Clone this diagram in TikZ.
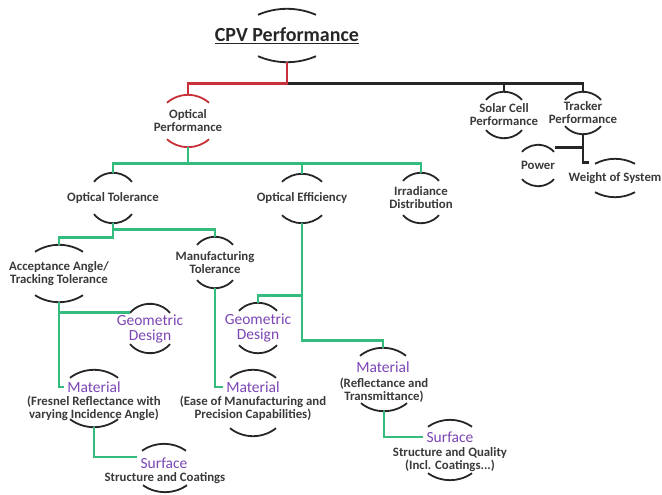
\documentclass[tikz,border=0pt]{standalone}
\usepackage{fontspec}
\setmainfont{Carlito}
\usepackage{xcolor}
\usepackage{tikz}

\definecolor{txtgray}{HTML}{3A3A3A}
\definecolor{headviolet}{HTML}{7B45B5}
\definecolor{linegreen}{HTML}{33BC7E}
\definecolor{linered}{HTML}{C8303A}

\begin{document}
\begin{tikzpicture}[
    x=1pt, y=1pt,
    toptitle/.style={font=\bfseries\fontsize{20}{22}\selectfont, text=black!85, inner sep=1pt},
    term/.style={font=\bfseries\fontsize{12.8}{13}\selectfont, text=txtgray, align=center, inner sep=1pt},
    head/.style={font=\fontsize{15.5}{15}\selectfont, text=headviolet, align=center, inner xsep=3pt, inner ysep=0pt},
    note/.style={term},
    link/.style={line width=2.8pt},
    blackline/.style={link, draw=black!85},
    redline/.style={link, draw=linered},
    greenline/.style={link, draw=linegreen},
    capline/.style={line width=1.8pt}
]
    \useasboundingbox (0,0) rectangle (662,-495);

    % Nodes
    \node[toptitle, minimum height=53] (cpv) at (287,-35.5) {\underline{CPV Performance}};

    \node[term, minimum height=52] (op) at (188,-121) {Optical\\Performance};
    \node[term, minimum height=46] (sc) at (504,-115) {Solar Cell\\Performance};
    \node[term, minimum height=42] (tp) at (583,-113) {Tracker\\Performance};
    \node[term, minimum height=41] (pw) at (538,-165.5) {Power};
    \node[term, minimum height=38] (ws) at (615,-178) {Weight of System};

    \node[term, minimum height=50] (ot) at (113,-198) {Optical Tolerance};
    \node[term, minimum height=49] (oe) at (302,-198.5) {Optical Efficiency};
    \node[term, minimum height=50] (id) at (421,-198) {Irradiance\\Distribution};

    \node[term, minimum height=57] (acc) at (59,-273.5) {Acceptance Angle/\\Tracking Tolerance};
    \node[term, minimum height=51] (mt) at (215,-262.5) {Manufacturing\\Tolerance};

    \node[head, minimum height=49] (gd1) at (150,-328.5) {Geometric\\Design};
    \node[head, minimum height=50] (gd2) at (258,-328) {Geometric\\Design};

    \node[head, minimum height=34] (mat1) at (94,-387) {Material};
    \node[note, minimum height=37] (mat1d) at (94,-408.5) {(Fresnel Reflectance with\\varying Incidence Angle)};
    \node[head, minimum height=34] (mat2) at (253,-387) {Material};
    \node[note, minimum height=55] (mat2d) at (253,-408.5) {(Ease of Manufacturing and\\Precision Capabilities)};
    \node[head, minimum height=38] (mat3) at (383,-367) {Material};
    \node[note, minimum height=42] (mat3d) at (384,-390) {(Reflectance and\\Transmittance)};

    \node[head, minimum height=38] (sf1) at (164,-463) {Surface};
    \node[note, minimum height=28] (sf1d) at (165,-478) {Structure and Coatings};
    \node[head, minimum height=34] (sf2) at (450,-437) {Surface};
    \node[note, minimum height=40] (sf2d) at (450,-460) {Structure and Quality\\(Incl. Coatings...)};

    % Caps above and below
    \foreach \t/\b/\w/\d/\c in {cpv/cpv/29/6/black!85, op/op/21/8/linered,
        sc/sc/18/8/black!85, tp/tp/18/8/black!85, pw/pw/16/7/black!85, ws/ws/20/5/black!85,
        ot/ot/19/9/black!85, oe/oe/20/8/black!85, id/id/18/8/black!85,
        acc/acc/24/7/black!85, mt/mt/18/8/black!85, gd1/gd1/20/9/black!85, gd2/gd2/19/8/black!85,
        mat1/mat1d/24/8/black!85, mat2/mat2d/23/8/black!85, mat3/mat3d/23/8/black!85,
        sf1/sf1d/22/7/black!85, sf2/sf2d/22/7/black!85}{
        \pgfmathsetmacro\rad{(\w*\w+\d*\d)/(2*\d)}
        \pgfmathsetmacro\ang{asin(\w/\rad)}
        \draw[capline, draw=\c] ([xshift=-\w, yshift=-\d]\t.north) arc[start angle=90+\ang, end angle=90-\ang, radius=\rad];
        \draw[capline, draw=\c] ([xshift=-\w, yshift=\d]\b.south) arc[start angle=270-\ang, end angle=270+\ang, radius=\rad];
    }

    % Connectors
    \draw[blackline] (cpv.south) -- ++(0,-21) -| (tp.north);
    \draw[blackline] (cpv.south) -- ++(0,-21) -| (sc.north);
    \draw[redline] (cpv.south) -- ++(0,-21) -| (op.north);
    \draw[blackline] (tp.south) |- ([xshift=17, yshift=-3]pw.north);
    \draw[blackline] (tp.south) |- ([xshift=-26, yshift=-4]ws.north);

    \draw[greenline] (op.south) -- ++(0,-16) -| (ot.north);
    \draw[greenline] (op.south) -- ++(0,-16) -| (oe.north);
    \draw[greenline] (op.south) -- ++(0,-16) -| (id.north);

    \draw[greenline] (ot.south) -- ++(0,-6) -| (mt.north);
    \draw[greenline] (ot.south) -- ++(0,-14) -| (acc.north);
    \draw[greenline] (acc.south) |- ([xshift=-20, yshift=-9]gd1.north);
    \draw[greenline] (acc.south) |- (mat1.west);
    \draw[greenline] (mat1d.south) |- ([yshift=6]sf1.west);
    \draw[greenline] (mt.south) |- (mat2.west);

    \draw[greenline] (oe.south) -- ++(0,-72) -| (gd2.north);
    \draw[greenline] (oe.south) -- ++(0,-117) -| (mat3.north);
    \draw[greenline] (mat3d.south) |- (sf2.west);
\end{tikzpicture}
\end{document}
